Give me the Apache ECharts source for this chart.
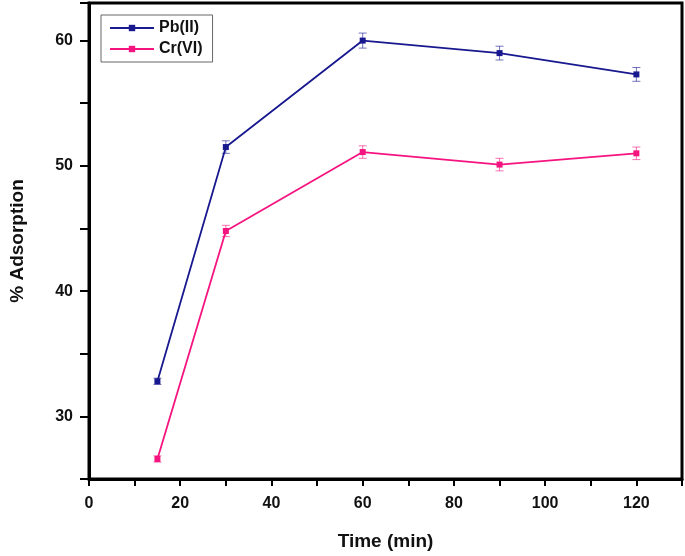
<!DOCTYPE html>
<html><head><meta charset="utf-8">
<script src="https://cdn.jsdelivr.net/npm/echarts@6/dist/echarts.min.js"></script>
<style>html,body{margin:0;padding:0;background:#fff}#c{width:685px;height:556px}</style>
</head><body><div id="c"></div>
<script>
const times = [15, 30, 60, 90, 120];
const pbValues = [32.8, 51.5, 60.0, 59.0, 57.3];
const pbErrors = [0.25, 0.5, 0.6, 0.55, 0.55];
const crValues = [26.6, 44.8, 51.1, 50.1, 51.0];
const crErrors = [0.25, 0.45, 0.5, 0.5, 0.5];
const seriesNames = ['Pb(II)', 'Cr(VI)'];
const pbColor = '#18188f';
const crColor = '#f5147f';

const chart = echarts.init(document.getElementById('c'));
function errData(vals, errs) {
  return times.map((t, i) => [t, vals[i] - errs[i], vals[i] + errs[i]]);
}
function errRender(color) {
  return function (params, api) {
    const x = api.value(0);
    const lo = api.coord([x, api.value(1)]);
    const hi = api.coord([x, api.value(2)]);
    const hw = 4;
    const style = { stroke: color, lineWidth: 1, opacity: 0.6 };
    return {
      type: 'group',
      children: [
        { type: 'line', shape: { x1: lo[0], y1: lo[1], x2: hi[0], y2: hi[1] }, style },
        { type: 'line', shape: { x1: lo[0] - hw, y1: lo[1], x2: lo[0] + hw, y2: lo[1] }, style },
        { type: 'line', shape: { x1: hi[0] - hw, y1: hi[1], x2: hi[0] + hw, y2: hi[1] }, style }
      ]
    };
  };
}
const labelFont = { fontFamily: 'Liberation Sans', fontWeight: 'bold', fontSize: 16, color: '#111' };
chart.setOption({
  animation: false,
  grid: { left: 88, right: 3, top: 3, bottom: 75, show: true, borderColor: '#000', borderWidth: 3, backgroundColor: 'transparent' },
  legend: {
    data: seriesNames,
    orient: 'vertical',
    left: 101, top: 15,
    borderColor: '#666', borderWidth: 1, padding: [5, 10, 5, 8],
    itemWidth: 44, itemHeight: 8, itemGap: 5,
    textStyle: { fontFamily: 'Liberation Sans', fontWeight: 'bold', fontSize: 16, color: '#111' }
  },
  xAxis: {
    type: 'value', min: 0, max: 130, interval: 10,
    name: 'Time (min)', nameLocation: 'middle', nameGap: 53,
    nameTextStyle: { fontFamily: 'Liberation Sans', fontWeight: 'bold', fontSize: 19, color: '#111' },
    axisLine: { show: true, onZero: false, lineStyle: { color: '#000', width: 3 } },
    axisTick: { show: true, inside: false, length: 7, lineStyle: { color: '#000', width: 2 } },
    axisLabel: Object.assign({ margin: 17, formatter: v => (v % 20 === 0 && v <= 120) ? String(v) : '' }, labelFont),
    splitLine: { show: false }
  },
  yAxis: {
    type: 'value', min: 25, max: 63, interval: 5,
    name: '% Adsorption', nameLocation: 'middle', nameGap: 62,
    nameTextStyle: { fontFamily: 'Liberation Sans', fontWeight: 'bold', fontSize: 19, color: '#111' },
    axisLine: { show: true, onZero: false, lineStyle: { color: '#000', width: 3 } },
    axisTick: { show: true, inside: false, length: 9, lineStyle: { color: '#000', width: 2 } },
    axisLabel: Object.assign({ margin: 16, formatter: v => (v % 10 === 0) ? String(v) : '' }, labelFont),
    splitLine: { show: false }
  },
  series: [
    { name: seriesNames[0], type: 'line', data: times.map((t, i) => [t, pbValues[i]]),
      symbol: 'rect', symbolSize: 6, itemStyle: { color: pbColor }, lineStyle: { color: pbColor, width: 1.8 }, z: 3 },
    { name: seriesNames[1], type: 'line', data: times.map((t, i) => [t, crValues[i]]),
      symbol: 'rect', symbolSize: 6, itemStyle: { color: crColor }, lineStyle: { color: crColor, width: 1.8 }, z: 3 },
    { name: 'pbErr', type: 'custom', data: errData(pbValues, pbErrors), renderItem: errRender(pbColor), encode: { x: 0, y: [1, 2] }, z: 2, silent: true },
    { name: 'crErr', type: 'custom', data: errData(crValues, crErrors), renderItem: errRender(crColor), encode: { x: 0, y: [1, 2] }, z: 2, silent: true }
  ]
});
</script></body></html>
